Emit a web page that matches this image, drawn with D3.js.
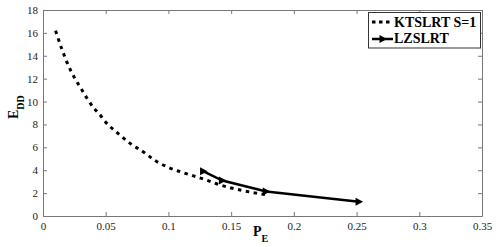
<!DOCTYPE html>
<html><head><meta charset="utf-8">
<script src="https://cdn.jsdelivr.net/npm/d3@7"></script>
<style>body{margin:0;background:#fff}svg{display:block}
text{font-family:"Liberation Serif","Times New Roman",Times,"DejaVu Serif",serif !important;}</style>
</head><body>
<svg id="c" width="499" height="247"></svg>
<script>
const ktsX = [0.01,0.015,0.02,0.025,0.03,0.035,0.04,0.045,0.05,0.06,0.07,0.08,0.09,0.10,0.11,0.12,0.13,0.14,0.15,0.16,0.17,0.178];
const ktsY = [16.2,14.6,13.2,12.1,11.2,10.3,9.5,8.9,8.2,7.2,6.3,5.6,4.8,4.25,3.85,3.5,3.15,2.75,2.45,2.2,2.0,1.85];
const lzX = [0.128,0.143,0.178,0.252];
const lzY = [3.9,3.1,2.15,1.25];
const xTicks = [0,0.05,0.1,0.15,0.2,0.25,0.3,0.35];
const xTickLabels = ["0","0.05","0.1","0.15","0.2","0.25","0.3","0.35"];
const yTicks = [0,2,4,6,8,10,12,14,16,18];
const seriesNames = ["KTSLRT S=1","LZSLRT"];

const svg = d3.select("#c");
const L=43,R=482,T=10,B=216;
const x = d3.scaleLinear().domain([0,0.35]).range([L,R]);
const y = d3.scaleLinear().domain([0,18]).range([B,T]);
const axisCol="#777", txtCol="#222";

const gx = svg.append("g").attr("transform",`translate(0,${B})`)
  .call(d3.axisBottom(x).tickValues(xTicks).tickFormat((d,i)=>xTickLabels[i]).tickSizeInner(-4).tickSizeOuter(0).tickPadding(6));
const gxt = svg.append("g").attr("transform",`translate(0,${T})`)
  .call(d3.axisTop(x).tickValues(xTicks).tickFormat("").tickSizeInner(-4).tickSizeOuter(0));
const gy = svg.append("g").attr("transform",`translate(${L},0)`)
  .call(d3.axisLeft(y).tickValues(yTicks).tickSizeInner(-4).tickSizeOuter(0).tickPadding(5));
const gyr = svg.append("g").attr("transform",`translate(${R},0)`)
  .call(d3.axisRight(y).tickValues(yTicks).tickFormat("").tickSizeInner(-4).tickSizeOuter(0));
[gx,gxt,gy,gyr].forEach(g=>{
  g.attr("font-family",null);
  g.select(".domain").attr("stroke",axisCol).attr("stroke-width",1);
  g.selectAll(".tick line").attr("stroke",axisCol);
  g.selectAll("text").attr("fill",txtCol).style("font-size","11px");
});

const line = d3.line().x(d=>x(d[0])).y(d=>y(d[1])).curve(d3.curveMonotoneX);
svg.append("path").datum(ktsX.map((v,i)=>[v,ktsY[i]]))
  .attr("d",line).attr("fill","none").attr("stroke","#000")
  .attr("stroke-width",3).attr("stroke-dasharray","3.5,4.5");

const lz = lzX.map((v,i)=>[v,lzY[i]]);
svg.append("path").datum(lz).attr("d",d3.line().x(d=>x(d[0])).y(d=>y(d[1])))
  .attr("fill","none").attr("stroke","#000").attr("stroke-width",2.5);
const tri="M-3.5,-4 L4,0 L-3.5,4Z";
svg.selectAll(".mk").data(lz).join("path").attr("class","mk")
  .attr("transform",d=>`translate(${x(d[0])},${y(d[1])})`).attr("d",tri).attr("fill","#000");

const lg = svg.append("g");
lg.append("rect").attr("x",368.5).attr("y",12.5).attr("width",112).attr("height",35.5)
  .attr("fill","#fff").attr("stroke","#333").attr("stroke-width",1);
lg.append("line").attr("x1",372).attr("x2",393).attr("y1",22).attr("y2",22)
  .attr("stroke","#000").attr("stroke-width",3).attr("stroke-dasharray","3.5,3.5");
lg.append("line").attr("x1",372).attr("x2",393).attr("y1",39).attr("y2",39)
  .attr("stroke","#000").attr("stroke-width",2.5);
lg.append("path").attr("transform","translate(383,39)").attr("d",tri).attr("fill","#000");
lg.selectAll(".lt").data(seriesNames).join("text").attr("class","lt")
  .attr("x",394).attr("y",(d,i)=>26.5+i*16.5).text(d=>d)
  .style("font-weight","bold").style("font-size","14px").attr("fill","#000");

const xl = svg.append("text").attr("x",253).attr("y",236)
  .style("font-weight","bold").style("font-size","14px");
xl.append("tspan").text("P");
xl.append("tspan").text("E").attr("dy",6).style("font-size","10px");
const yl = svg.append("text").attr("transform","translate(18,119) rotate(-90)")
  .style("font-weight","bold").style("font-size","14px");
yl.append("tspan").text("E");
yl.append("tspan").text("DD").attr("dy",6).style("font-size","10px");
</script>
</body></html>
